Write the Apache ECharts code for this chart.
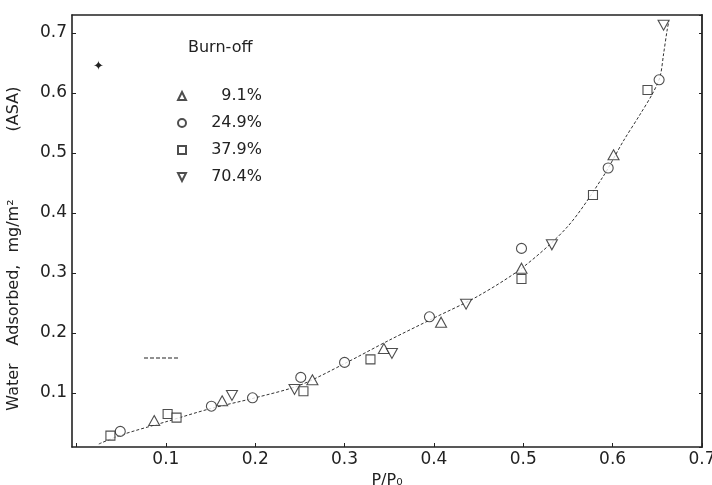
<!DOCTYPE html>
<html>
<head>
<meta charset="utf-8">
<script src="https://cdn.jsdelivr.net/npm/echarts@6/dist/echarts.min.js"></script>
<style>html,body{margin:0;padding:0;background:#fff;}#c{width:712px;height:485px;}</style>
</head>
<body>
<div id="c"></div>
<script>
// ---- data ----
const seriesNames = ['9.1%', '24.9%', '37.9%', '70.4%'];
const tri9X  = [0.087, 0.163, 0.264, 0.344, 0.408, 0.498, 0.601];
const tri9Y  = [0.054, 0.087, 0.122, 0.174, 0.218, 0.308, 0.497];
const circ24X = [0.049, 0.151, 0.197, 0.251, 0.300, 0.395, 0.498, 0.595, 0.652];
const circ24Y = [0.036, 0.078, 0.092, 0.126, 0.151, 0.227, 0.341, 0.475, 0.622];
const sq37X = [0.038, 0.102, 0.112, 0.254, 0.329, 0.498, 0.578, 0.639];
const sq37Y = [0.029, 0.065, 0.059, 0.103, 0.156, 0.290, 0.430, 0.605];
const dn70X = [0.174, 0.244, 0.353, 0.436, 0.532, 0.657];
const dn70Y = [0.096, 0.106, 0.166, 0.248, 0.347, 0.713];
const curveX = [0.025, 0.05, 0.1, 0.15, 0.2, 0.25, 0.3, 0.35, 0.4, 0.45, 0.5, 0.55, 0.589, 0.612, 0.631, 0.645, 0.653, 0.657, 0.661, 0.663];
const curveY = [0.015, 0.03, 0.052, 0.074, 0.092, 0.113, 0.149, 0.188, 0.225, 0.262, 0.31, 0.378, 0.46, 0.52, 0.565, 0.6, 0.627, 0.665, 0.705, 0.72];
const xTickLabels = ['0.1', '0.2', '0.3', '0.4', '0.5', '0.6', '0.7'];
const yTickLabels = ['0.1', '0.2', '0.3', '0.4', '0.5', '0.6', '0.7'];
const yTitleWords = ['Water', 'Adsorbed,', 'mg/m²', '(ASA)'];

const zip = (xs, ys) => xs.map((x, i) => [x, ys[i]]);
const FONT = 'DejaVu Sans';
const INK = '#222';
const downTri = 'path://M0,0 L10,0 L5,10 Z';

const chart = echarts.init(document.getElementById('c'), null, {renderer: 'canvas'});

const markerStyle = {color: '#fff', borderColor: INK, borderWidth: 1.1};

function fmt(list) {
  return function (v) {
    const r = Math.round(v * 10) / 10;
    const s = r.toFixed(1);
    return (Math.abs(v - r) < 1e-6 && list.indexOf(s) >= 0) ? s : '';
  };
}

// word centres along the rotated y title (layout only)
const yTitlePos = [387, 305, 226, 109];

const option = {
  backgroundColor: '#fff',
  animation: false,
  textStyle: {fontFamily: FONT, color: INK},
  grid: {left: 72, right: 10, top: 15, bottom: 38, containLabel: false, outerBoundsMode: 'none'},
  title: {
    text: 'Burn-off', left: 183, top: 35,
    textStyle: {fontFamily: FONT, fontSize: 16, fontWeight: 'normal', color: INK}
  },
  legend: {
    orient: 'vertical', left: 172, top: 83,
    itemWidth: 8, itemHeight: 8, itemGap: 11,
    data: seriesNames,
    formatter: n => '{a|' + n + '}',
    textStyle: {
      fontFamily: FONT, fontSize: 16, color: INK,
      rich: {a: {width: 71, align: 'right', fontFamily: FONT, fontSize: 16, color: INK}}
    }
  },
  xAxis: [{
    type: 'value', min: -0.005, max: 0.7, splitNumber: 7,
    name: 'P/P₀', nameLocation: 'middle', nameGap: 24,
    nameTextStyle: {fontFamily: FONT, fontSize: 16, color: INK},
    axisLine: {show: true, onZero: false, lineStyle: {color: INK, width: 1.6}},
    axisTick: {show: true, inside: true, length: 4, lineStyle: {color: INK}},
    axisLabel: {fontFamily: FONT, fontSize: 17, color: INK, margin: 4, showMinLabel: false, formatter: fmt(xTickLabels)},
    splitLine: {show: false}
  }, {
    type: 'value', position: 'top', min: -0.005, max: 0.7,
    axisLine: {show: true, onZero: false, lineStyle: {color: INK, width: 1.6}},
    axisTick: {show: false}, axisLabel: {show: false}, splitLine: {show: false}
  }],
  yAxis: [{
    type: 'value', min: 0.01, max: 0.73, splitNumber: 7,
    axisLine: {show: true, onZero: false, lineStyle: {color: INK, width: 1.6}},
    axisTick: {show: true, inside: true, length: 4, lineStyle: {color: INK}},
    axisLabel: {fontFamily: FONT, fontSize: 17, color: INK, margin: 5, showMinLabel: false, showMaxLabel: false, formatter: fmt(yTickLabels)},
    splitLine: {show: false}
  }, {
    type: 'value', position: 'right', min: 0.01, max: 0.73, splitNumber: 7,
    axisLine: {show: true, onZero: false, lineStyle: {color: INK, width: 1.8}},
    axisTick: {show: true, inside: true, length: 3, lineStyle: {color: INK}},
    axisLabel: {show: false}, splitLine: {show: false}
  }],
  graphic: yTitleWords.map((w, i) => ({
    type: 'text', x: 14, y: yTitlePos[i], rotation: Math.PI / 2,
    style: {text: w, fontFamily: FONT, fontSize: 16, fill: INK, align: 'center', verticalAlign: 'middle'}
  })).concat([
    {
      type: 'text', x: 98, y: 66,
      style: {text: '✦', fontSize: 13, fill: INK, align: 'center', verticalAlign: 'middle'}
    },
    {
      type: 'line', shape: {x1: 144, y1: 358, x2: 178, y2: 358},
      style: {stroke: INK, lineWidth: 1.2, lineDash: [4, 2]}
    }
  ]),
  series: [
    {
      name: 'curve', type: 'line', data: zip(curveX, curveY), smooth: 0.3,
      showSymbol: false, symbol: 'none', silent: true,
      lineStyle: {color: '#333', width: 1, type: [3, 2]}, z: 1
    },
    {name: seriesNames[0], type: 'scatter', data: zip(tri9X, tri9Y), symbol: 'triangle', symbolSize: [11, 10], itemStyle: markerStyle, z: 3},
    {name: seriesNames[1], type: 'scatter', data: zip(circ24X, circ24Y), symbol: 'circle', symbolSize: 10, itemStyle: markerStyle, z: 3},
    {name: seriesNames[2], type: 'scatter', data: zip(sq37X, sq37Y), symbol: 'rect', symbolSize: 9, itemStyle: markerStyle, z: 3},
    {name: seriesNames[3], type: 'scatter', data: zip(dn70X, dn70Y), symbol: downTri, symbolSize: [11, 10], itemStyle: markerStyle, z: 3}
  ]
};
chart.setOption(option);
</script>
</body>
</html>
